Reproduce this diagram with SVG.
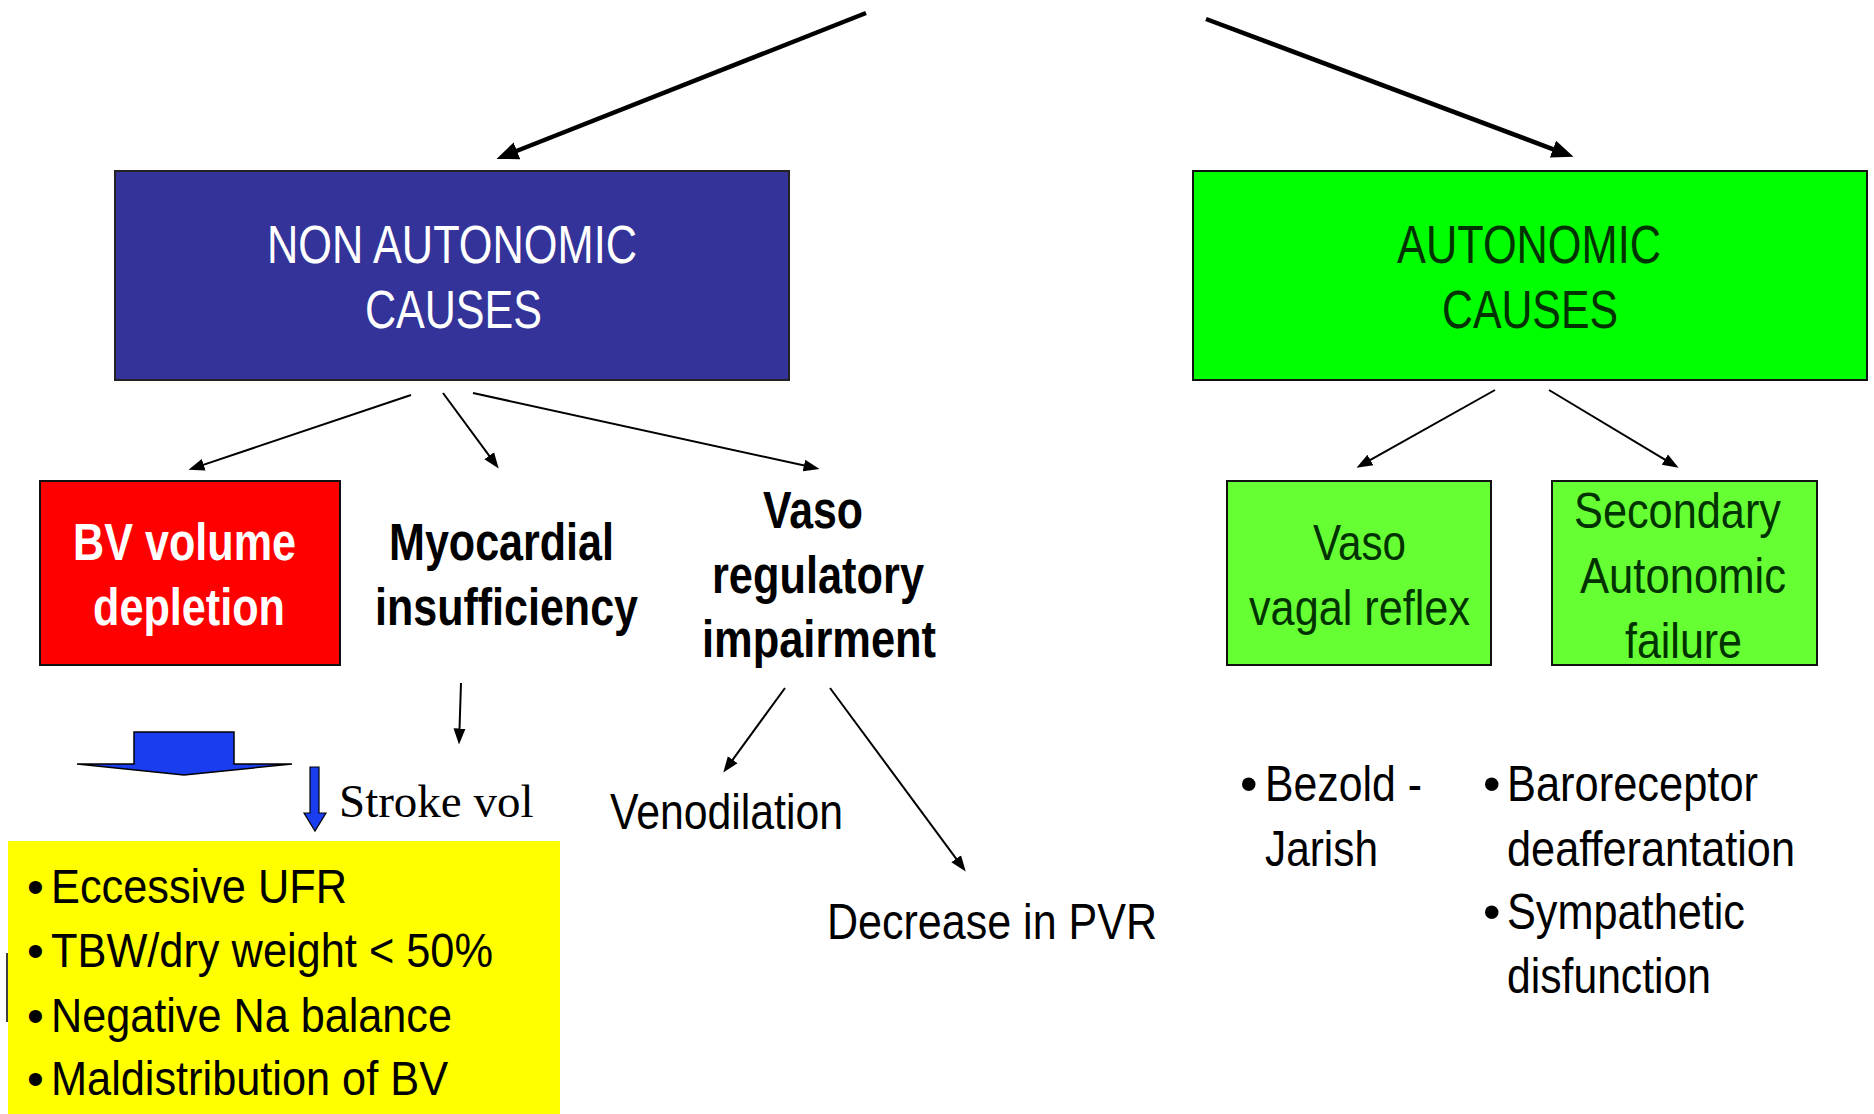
<svg xmlns="http://www.w3.org/2000/svg" width="1874" height="1114" viewBox="0 0 1874 1114">
<style>
text{font-family:"Liberation Sans Narrow","Liberation Sans",Arial,sans-serif;}
.t{font-size:50px;fill:#000;}
.b{font-weight:bold;font-size:51px;}
.w{fill:#fff;}
.g{fill:#003300;}
.big{font-size:53px;}
.y{font-size:48px;fill:#000;}
.serif{font-family:"Liberation Serif","Times New Roman",serif;font-size:47px;}
.thick{stroke:#000;stroke-width:4.5;fill:none;}
.thin{stroke:#000;stroke-width:2;fill:none;}
</style>
<defs>
<marker id="hb" markerUnits="userSpaceOnUse" markerWidth="24" markerHeight="20" viewBox="0 0 24 20" refX="0.5" refY="10" orient="auto"><path d="M0,1 L22,10 L0,19 z" fill="#000"/></marker>
<marker id="hs" markerUnits="userSpaceOnUse" markerWidth="18" markerHeight="14" viewBox="0 0 18 14" refX="0.5" refY="7" orient="auto"><path d="M0,1 L16,7 L0,13 z" fill="#000"/></marker>
</defs>
<rect width="1874" height="1114" fill="#fff"/>

<g id="connectors">
<line class="thick" x1="866" y1="13" x2="516.5" y2="151" marker-end="url(#hb)"/>
<line class="thick" x1="1206" y1="19" x2="1553.4" y2="149.3" marker-end="url(#hb)"/>
<line class="thin" x1="411" y1="395" x2="203.2" y2="464.9" marker-end="url(#hs)"/>
<line class="thin" x1="443" y1="393" x2="489.5" y2="456.1" marker-end="url(#hs)"/>
<line class="thin" x1="473" y1="393" x2="804.4" y2="465.6" marker-end="url(#hs)"/>
<line class="thin" x1="461" y1="683" x2="459.5" y2="729" marker-end="url(#hs)"/>
<line class="thin" x1="785" y1="688" x2="732.4" y2="760.1" marker-end="url(#hs)"/>
<line class="thin" x1="830" y1="688" x2="956.5" y2="859.1" marker-end="url(#hs)"/>
<line class="thin" x1="1495" y1="390" x2="1370" y2="460.2" marker-end="url(#hs)"/>
<line class="thin" x1="1549" y1="390" x2="1665.3" y2="459.8" marker-end="url(#hs)"/>
</g>

<g id="non-autonomic">
<rect x="115" y="171" width="674" height="209" fill="#333399" stroke="#222" stroke-width="2"/>
<text class="big w" x="267" y="263" textLength="370" lengthAdjust="spacingAndGlyphs">NON AUTONOMIC</text>
<text class="big w" x="365" y="328" textLength="177" lengthAdjust="spacingAndGlyphs">CAUSES</text>
</g>

<g id="autonomic">
<rect x="1193" y="171" width="674" height="209" fill="#00ff00" stroke="#111" stroke-width="2"/>
<text class="big g" x="1397" y="263" textLength="264" lengthAdjust="spacingAndGlyphs">AUTONOMIC</text>
<text class="big g" x="1442" y="328" textLength="176" lengthAdjust="spacingAndGlyphs">CAUSES</text>
</g>

<g id="bv-depletion">
<rect x="40" y="481" width="300" height="184" fill="#ff0000" stroke="#111" stroke-width="2"/>
<text class="b w" x="73" y="560" textLength="223" lengthAdjust="spacingAndGlyphs">BV volume</text>
<text class="b w" x="93" y="625" textLength="192" lengthAdjust="spacingAndGlyphs">depletion</text>
</g>

<g id="myocardial">
<text class="b" x="389" y="560" textLength="225" lengthAdjust="spacingAndGlyphs">Myocardial</text>
<text class="b" x="375" y="625" textLength="263" lengthAdjust="spacingAndGlyphs">insufficiency</text>
</g>

<g id="vasoregulatory">
<text class="b" x="763" y="528" textLength="100" lengthAdjust="spacingAndGlyphs">Vaso</text>
<text class="b" x="712" y="593" textLength="212" lengthAdjust="spacingAndGlyphs">regulatory</text>
<text class="b" x="702" y="657" textLength="234" lengthAdjust="spacingAndGlyphs">impairment</text>
</g>

<g id="venodilation">
<text class="t" x="610" y="829" textLength="233" lengthAdjust="spacingAndGlyphs">Venodilation</text>
</g>

<g id="pvr">
<text class="t" x="827" y="939" textLength="330" lengthAdjust="spacingAndGlyphs">Decrease in PVR</text>
</g>

<g id="block-arrow">
<polygon points="134,732 234,732 234,764 292,764 184,775 77,764 134,764" fill="#1b3df0" stroke="#000" stroke-width="1.5"/>
</g>

<g id="stroke-vol">
<polygon points="310,767 319,767 319,813 326,813 315,831 304,813 310,813" fill="#1b3df0" stroke="#000" stroke-width="1.2"/>
<text class="serif" x="339" y="817">Stroke vol</text>
</g>

<g id="bv-list">
<rect x="8" y="841" width="552" height="273" fill="#ffff00"/>
<line x1="7" y1="953" x2="7" y2="1022" stroke="#000" stroke-width="1.5"/>
<text class="y" x="27" y="903">•</text>
<text class="y" x="51" y="903" textLength="296" lengthAdjust="spacingAndGlyphs">Eccessive UFR</text>
<text class="y" x="27" y="967">•</text>
<text class="y" x="51" y="967" textLength="442" lengthAdjust="spacingAndGlyphs">TBW/dry weight &lt; 50%</text>
<text class="y" x="27" y="1032">•</text>
<text class="y" x="51" y="1032" textLength="401" lengthAdjust="spacingAndGlyphs">Negative Na balance</text>
<text class="y" x="27" y="1095">•</text>
<text class="y" x="51" y="1095" textLength="397" lengthAdjust="spacingAndGlyphs">Maldistribution of BV</text>
</g>

<g id="vasovagal">
<rect x="1227" y="481" width="264" height="184" fill="#66ff33" stroke="#111" stroke-width="2"/>
<text class="t g" x="1313" y="560" textLength="93" lengthAdjust="spacingAndGlyphs">Vaso</text>
<text class="t g" x="1249" y="625" textLength="221" lengthAdjust="spacingAndGlyphs">vagal reflex</text>
</g>

<g id="secondary-failure">
<rect x="1552" y="481" width="265" height="184" fill="#66ff33" stroke="#111" stroke-width="2"/>
<text class="t g" x="1574" y="528" textLength="207" lengthAdjust="spacingAndGlyphs">Secondary</text>
<text class="t g" x="1580" y="593" textLength="206" lengthAdjust="spacingAndGlyphs">Autonomic</text>
<text class="t g" x="1625" y="658" textLength="117" lengthAdjust="spacingAndGlyphs">failure</text>
</g>

<g id="bezold">
<text class="t" x="1240" y="801">•</text>
<text class="t" x="1265" y="801" textLength="157" lengthAdjust="spacingAndGlyphs">Bezold -</text>
<text class="t" x="1265" y="866" textLength="113" lengthAdjust="spacingAndGlyphs">Jarish</text>
</g>

<g id="secondary-list">
<text class="t" x="1483" y="801">•</text>
<text class="t" x="1507" y="801" textLength="251" lengthAdjust="spacingAndGlyphs">Baroreceptor</text>
<text class="t" x="1507" y="866" textLength="288" lengthAdjust="spacingAndGlyphs">deafferantation</text>
<text class="t" x="1483" y="929">•</text>
<text class="t" x="1507" y="929" textLength="238" lengthAdjust="spacingAndGlyphs">Sympathetic</text>
<text class="t" x="1507" y="993" textLength="204" lengthAdjust="spacingAndGlyphs">disfunction</text>
</g>
</svg>
